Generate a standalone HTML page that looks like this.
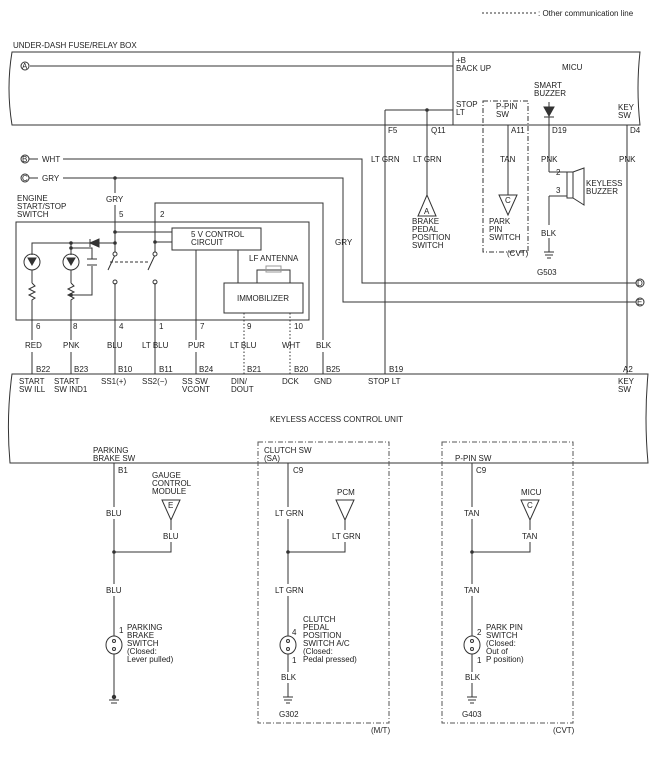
<!DOCTYPE html>
<html><head><meta charset="utf-8"><style>
body{margin:0;background:#fff}
svg text{font-family:"Liberation Sans",sans-serif;font-size:8px;fill:#222}
</style></head><body>
<svg width="658" height="756" viewBox="0 0 658 756" xmlns="http://www.w3.org/2000/svg">
<g stroke="#333" stroke-width="1" fill="none">
<!-- legend -->
<line x1="482" y1="13" x2="536" y2="13" stroke-dasharray="2,2"/>
<!-- top box -->
<path d="M12,52 L640,52 Q636,88 640,125 L12,125 Q6,88 12,52 Z"/>
<line x1="453" y1="52" x2="453" y2="125"/>
<line x1="30" y1="66" x2="453" y2="66"/>
<circle cx="25" cy="66" r="4" fill="#fff"/>
<line x1="385" y1="110" x2="453" y2="110"/>
<line x1="385" y1="110" x2="385" y2="374"/>
<line x1="427" y1="110" x2="427" y2="196"/>
<path d="M427,195 L418,216 L436,216 Z"/>
<rect x="483" y="101" width="45" height="151" stroke-dasharray="5,2,1,2"/>
<line x1="508" y1="125" x2="508" y2="195"/>
<path d="M499,195 L517,195 L508,215 Z"/>
<!-- buzzer -->
<line x1="549" y1="102" x2="549" y2="172"/>
<path d="M544,107 L554,107 L549,116 Z" fill="#333"/>
<line x1="544" y1="117" x2="554" y2="117"/>
<line x1="549" y1="172" x2="567" y2="172"/>
<line x1="567" y1="196" x2="549" y2="196"/>
<line x1="549" y1="196" x2="549" y2="225"/>
<line x1="549" y1="238" x2="549" y2="252"/>
<line x1="544" y1="252" x2="554" y2="252"/><line x1="545" y1="255" x2="553" y2="255"/><line x1="547" y1="258" x2="551" y2="258"/>
<rect x="567" y="172" width="6" height="26"/>
<path d="M573,172 L584,168 L584,205 L573,198"/>
<line x1="627" y1="125" x2="627" y2="374"/>
<!-- B / C -->
<circle cx="25" cy="159" r="4" fill="#fff"/>
<circle cx="25" cy="178" r="4" fill="#fff"/>
<line x1="29" y1="159" x2="38" y2="159"/><line x1="29" y1="178" x2="38" y2="178"/>
<polyline points="63,159 362,159 362,283 636,283"/>
<polyline points="63,178 343,178 343,302 636,302"/>
<circle cx="640" cy="283" r="4" fill="#fff"/>
<circle cx="640" cy="302" r="4" fill="#fff"/>
<!-- engine start switch -->
<rect x="16" y="222" width="293" height="98"/>
<line x1="115" y1="178" x2="115" y2="193"/>
<line x1="115" y1="205" x2="115" y2="255"/>
<line x1="115" y1="283" x2="115" y2="374"/>
<polyline points="155,255 155,203 323,203 323,340"/>
<line x1="323" y1="352" x2="323" y2="374"/>
<line x1="155" y1="283" x2="155" y2="374"/>
<line x1="115" y1="232" x2="172" y2="232"/>
<line x1="155" y1="242" x2="172" y2="242"/>
<rect x="172" y="228" width="89" height="22"/>
<line x1="115" y1="255" x2="108" y2="270"/>
<line x1="155" y1="255" x2="148" y2="270"/>
<line x1="110" y1="262" x2="150" y2="262" stroke-dasharray="3,2"/>
<circle cx="115" cy="282" r="2"/><circle cx="155" cy="282" r="2"/>
<circle cx="115" cy="254" r="2" fill="#fff"/><circle cx="155" cy="254" r="2" fill="#fff"/>
<polyline points="115,243 32,243 32,255"/>
<path d="M90,243 L99,239 L99,247 Z" fill="#333"/><line x1="90" y1="239" x2="90" y2="247"/>
<line x1="71" y1="243" x2="71" y2="255"/>
<circle cx="32" cy="262" r="8"/><circle cx="71" cy="262" r="8"/>
<path d="M28,258 L36,258 L32,265 Z" fill="#333"/><path d="M67,258 L75,258 L71,265 Z" fill="#333"/>
<line x1="32" y1="270" x2="32" y2="283"/><line x1="71" y1="270" x2="71" y2="283"/>
<polyline points="71,248 92,248 92,259"/><polyline points="71,295 92,295 92,266"/>
<line x1="87" y1="259" x2="97" y2="259"/><line x1="87" y1="265" x2="97" y2="265"/>
<path d="M32,283 l3,3 l-6,3 l6,3 l-6,3 l6,3 l-3,2 L32,340"/>
<path d="M71,283 l3,3 l-6,3 l6,3 l-6,3 l6,3 l-3,2 L71,340"/>
<line x1="32" y1="352" x2="32" y2="374"/><line x1="71" y1="352" x2="71" y2="374"/>
<line x1="115" y1="374" x2="115" y2="374"/>
<line x1="196" y1="250" x2="196" y2="340"/><line x1="196" y1="352" x2="196" y2="374"/>
<line x1="238" y1="250" x2="238" y2="283"/>
<rect x="224" y="283" width="79" height="30"/>
<polyline points="257,283 257,270 290,270 290,283"/>
<rect x="266" y="266" width="15" height="6" stroke="#999"/>
<line x1="244" y1="313" x2="244" y2="374" stroke-dasharray="1.5,2"/>
<line x1="290" y1="313" x2="290" y2="374" stroke-dasharray="1.5,2"/>
<!-- bottom box -->
<path d="M12,374 L648,374 Q644,418 648,463 L10,463 Q6,418 12,374 Z"/>
<!-- parking brake -->
<line x1="114" y1="463" x2="114" y2="507"/><line x1="114" y1="519" x2="114" y2="584"/>
<line x1="114" y1="596" x2="114" y2="697"/>
<path d="M162,500 L180,500 L171,520 Z"/>
<polyline points="171,520 171,530"/><polyline points="171,542 171,552 114,552"/>
<ellipse cx="114" cy="645" rx="8" ry="9" fill="#fff"/>
<circle cx="114" cy="641" r="1.5"/><circle cx="114" cy="649" r="1.5"/>
<line x1="109" y1="700" x2="119" y2="700"/><line x1="111" y1="703" x2="117" y2="703"/>
<!-- clutch -->
<rect x="258" y="442" width="131" height="281" stroke-dasharray="5,2,1,2" stroke="#555"/>
<line x1="288" y1="463" x2="288" y2="507"/><line x1="288" y1="519" x2="288" y2="584"/>
<line x1="288" y1="596" x2="288" y2="672"/><line x1="288" y1="683" x2="288" y2="697"/>
<path d="M336,500 L354,500 L345,520 Z"/>
<line x1="345" y1="520" x2="345" y2="530"/><polyline points="345,542 345,552 288,552"/>
<ellipse cx="288" cy="645" rx="8" ry="9" fill="#fff"/>
<circle cx="288" cy="641" r="1.5"/><circle cx="288" cy="649" r="1.5"/>
<line x1="283" y1="697" x2="293" y2="697"/><line x1="284" y1="700" x2="292" y2="700"/><line x1="286" y1="703" x2="290" y2="703"/>
<!-- cvt -->
<rect x="442" y="442" width="131" height="281" stroke-dasharray="5,2,1,2" stroke="#555"/>
<line x1="472" y1="463" x2="472" y2="507"/><line x1="472" y1="519" x2="472" y2="584"/>
<line x1="472" y1="596" x2="472" y2="672"/><line x1="472" y1="683" x2="472" y2="697"/>
<path d="M521,500 L539,500 L530,520 Z"/>
<line x1="530" y1="520" x2="530" y2="530"/><polyline points="530,542 530,552 472,552"/>
<ellipse cx="472" cy="645" rx="8" ry="9" fill="#fff"/>
<circle cx="472" cy="641" r="1.5"/><circle cx="472" cy="649" r="1.5"/>
<line x1="467" y1="697" x2="477" y2="697"/><line x1="468" y1="700" x2="476" y2="700"/><line x1="470" y1="703" x2="474" y2="703"/>
</g>
<g fill="#333">
<circle cx="427" cy="110" r="1.8"/><circle cx="115" cy="178" r="1.8"/><circle cx="115" cy="232" r="1.8"/>
<circle cx="115" cy="243" r="1.8"/><circle cx="155" cy="242" r="1.8"/><circle cx="71" cy="243" r="1.8"/>
<circle cx="71" cy="248" r="1.8"/><circle cx="71" cy="295" r="1.8"/>
<circle cx="114" cy="552" r="1.8"/><circle cx="288" cy="552" r="1.8"/><circle cx="472" cy="552" r="1.8"/>
<circle cx="114" cy="697" r="2.2"/>
</g>
<g>
<text x="538" y="16">: Other communication line</text>
<text x="13" y="48">UNDER-DASH FUSE/RELAY BOX</text>
<text x="22" y="69" font-size="7">A</text><text x="22" y="162" font-size="7">B</text><text x="22" y="181" font-size="7">C</text>
<text x="637" y="286" font-size="7">D</text><text x="637" y="305" font-size="7">E</text>
<text x="42" y="162">WHT</text><text x="42" y="181">GRY</text>
<text x="456" y="63">+B</text><text x="456" y="71">BACK UP</text>
<text x="562" y="70">MICU</text>
<text x="534" y="88">SMART</text><text x="534" y="96">BUZZER</text>
<text x="456" y="107">STOP</text><text x="456" y="115">LT</text>
<text x="496" y="109">P-PIN</text><text x="496" y="117">SW</text>
<text x="618" y="110">KEY</text><text x="618" y="118">SW</text>
<text x="388" y="133">F5</text><text x="431" y="133">Q11</text><text x="511" y="133">A11</text><text x="552" y="133">D19</text><text x="630" y="133">D4</text>
<text x="371" y="162">LT GRN</text><text x="413" y="162">LT GRN</text><text x="500" y="162">TAN</text><text x="541" y="162">PNK</text><text x="619" y="162">PNK</text>
<text x="424" y="214" font-size="7">A</text><text x="505" y="203" font-size="7">C</text>
<text x="412" y="224">BRAKE</text><text x="412" y="232">PEDAL</text><text x="412" y="240">POSITION</text><text x="412" y="248">SWITCH</text>
<text x="489" y="224">PARK</text><text x="489" y="232">PIN</text><text x="489" y="240">SWITCH</text><text x="507" y="256">(CVT)</text>
<text x="556" y="175">2</text><text x="556" y="193">3</text>
<text x="586" y="186">KEYLESS</text><text x="586" y="194">BUZZER</text>
<text x="541" y="236">BLK</text><text x="537" y="275">G503</text>
<text x="17" y="201">ENGINE</text><text x="17" y="209">START/STOP</text><text x="17" y="217">SWITCH</text>
<text x="106" y="202">GRY</text><text x="119" y="217">5</text><text x="160" y="217">2</text>
<text x="335" y="245">GRY</text>
<text x="191" y="237">5 V CONTROL</text><text x="191" y="245">CIRCUIT</text>
<text x="249" y="261">LF ANTENNA</text>
<text x="237" y="301">IMMOBILIZER</text>
<text x="36" y="329">6</text><text x="73" y="329">8</text><text x="119" y="329">4</text><text x="159" y="329">1</text><text x="200" y="329">7</text><text x="247" y="329">9</text><text x="294" y="329">10</text>
<text x="25" y="348">RED</text><text x="63" y="348">PNK</text><text x="107" y="348">BLU</text><text x="142" y="348">LT BLU</text><text x="188" y="348">PUR</text><text x="230" y="348">LT BLU</text><text x="282" y="348">WHT</text><text x="316" y="348">BLK</text>
<text x="36" y="372">B22</text><text x="74" y="372">B23</text><text x="118" y="372">B10</text><text x="159" y="372">B11</text><text x="199" y="372">B24</text><text x="247" y="372">B21</text><text x="294" y="372">B20</text><text x="326" y="372">B25</text><text x="389" y="372">B19</text><text x="623" y="372">A2</text>
<text x="19" y="384">START</text><text x="19" y="392">SW ILL</text>
<text x="54" y="384">START</text><text x="54" y="392">SW IND1</text>
<text x="101" y="384">SS1(+)</text><text x="142" y="384">SS2(−)</text>
<text x="182" y="384">SS SW</text><text x="182" y="392">VCONT</text>
<text x="231" y="384">DIN/</text><text x="231" y="392">DOUT</text>
<text x="282" y="384">DCK</text><text x="314" y="384">GND</text><text x="368" y="384">STOP LT</text>
<text x="618" y="384">KEY</text><text x="618" y="392">SW</text>
<text x="270" y="422">KEYLESS ACCESS CONTROL UNIT</text>
<text x="93" y="453">PARKING</text><text x="93" y="461">BRAKE SW</text>
<text x="118" y="473">B1</text>
<text x="152" y="478">GAUGE</text><text x="152" y="486">CONTROL</text><text x="152" y="494">MODULE</text>
<text x="168" y="508" font-size="7">E</text>
<text x="106" y="516">BLU</text><text x="163" y="539">BLU</text><text x="106" y="593">BLU</text>
<text x="119" y="633">1</text>
<text x="127" y="630">PARKING</text><text x="127" y="638">BRAKE</text><text x="127" y="646">SWITCH</text><text x="127" y="654">(Closed:</text><text x="127" y="662">Lever pulled)</text>
<text x="264" y="453">CLUTCH SW</text><text x="264" y="461">(SA)</text>
<text x="293" y="473">C9</text><text x="337" y="495">PCM</text>
<text x="275" y="516">LT GRN</text><text x="332" y="539">LT GRN</text><text x="275" y="593">LT GRN</text>
<text x="292" y="635">4</text><text x="292" y="663">1</text>
<text x="303" y="622">CLUTCH</text><text x="303" y="630">PEDAL</text><text x="303" y="638">POSITION</text><text x="303" y="646">SWITCH A/C</text><text x="303" y="654">(Closed:</text><text x="303" y="662">Pedal pressed)</text>
<text x="281" y="680">BLK</text><text x="279" y="717">G302</text><text x="371" y="733">(M/T)</text>
<text x="455" y="461">P-PIN SW</text>
<text x="476" y="473">C9</text><text x="521" y="495">MICU</text>
<text x="464" y="516">TAN</text><text x="522" y="539">TAN</text><text x="464" y="593">TAN</text>
<text x="477" y="635">2</text><text x="477" y="663">1</text>
<text x="486" y="630">PARK PIN</text><text x="486" y="638">SWITCH</text><text x="486" y="646">(Closed:</text><text x="486" y="654">Out of</text><text x="486" y="662">P position)</text>
<text x="465" y="680">BLK</text><text x="462" y="717">G403</text><text x="553" y="733">(CVT)</text>
<text x="527" y="508" font-size="7">C</text><text x="342" y="508" font-size="7"></text>
</g>
</svg>
</body></html>
